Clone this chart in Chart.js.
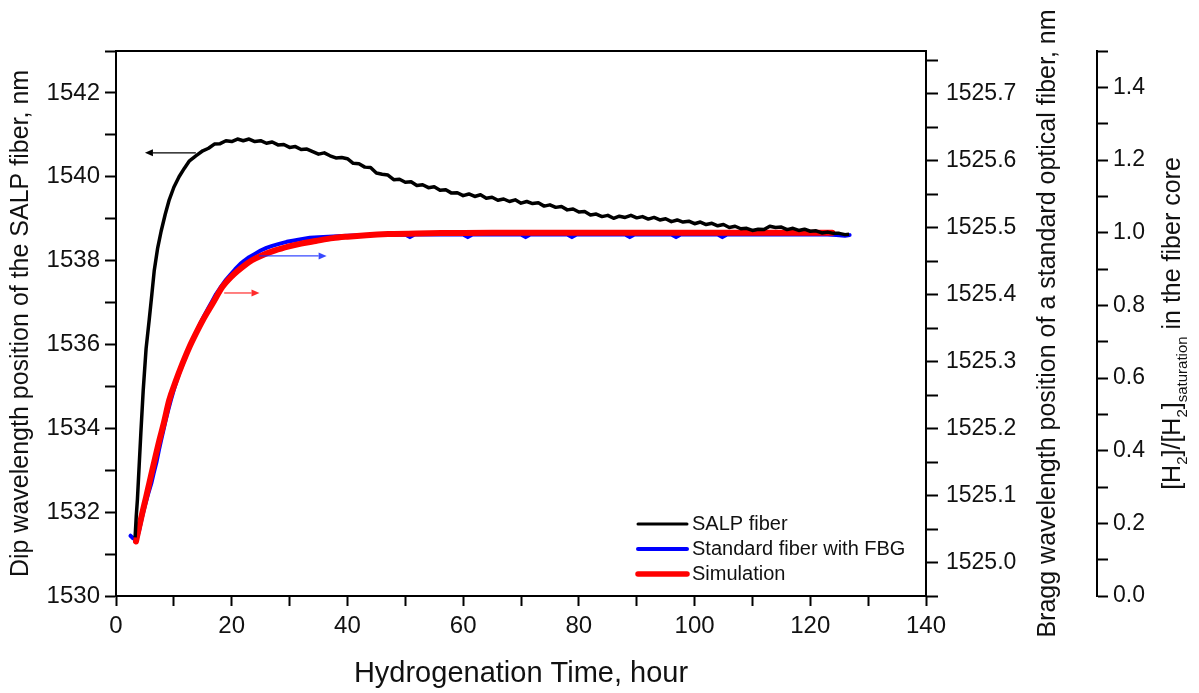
<!DOCTYPE html>
<html><head><meta charset="utf-8">
<script src="https://cdn.jsdelivr.net/npm/chart.js@4.4.1/dist/chart.umd.min.js"></script>
<style>html,body{margin:0;padding:0;background:#fff;}#wrap{width:1199px;height:693px;}</style>
</head><body><div id="wrap"><canvas id="c" width="1199" height="693"></canvas></div>
<script>
const FONT = "'Liberation Sans', Arial, sans-serif";

// ---- series ----
const salpHours = [3.3,3.5,3.7,4.0,4.3,4.7,5.2,5.75,6.2,6.6,7.2,7.8,8.5,9.2,10.0,10.9,11.8,12.7,13.8,15,16,17,18,19,20,21,22,23,24,25,26,27,28,29,30,31,32,33,
34,35,36,37,38,39,40,41,42,43,44,45,46,47,48,49,50,51,52,53,54,55,56,57,58,59,60,61,62,63,64,65,66,67,68,69,70,71,72,73,74,75,76,77,78,79,80,
81,82,83,84,85,86,87,88,89,90,91,92,93,94,95,96,97,98,99,100,101,102,103,104,105,106,107,108,109,110,111,112,113,114,115,116,117,118,119,120,121,122,123,124,125,126,126.7];
const salpDip = [1531.4,1531.9,1532.3,1533.1,1533.9,1534.9,1535.9,1536.6,1537.2,1537.75,1538.3,1538.7,1539.1,1539.45,1539.75,1540.0,1540.2,1540.38,1540.50,1540.62,1540.68,1540.78,1540.79,1540.86,1540.84,1540.90,1540.86,1540.90,1540.84,1540.86,1540.80,1540.83,1540.76,1540.77,1540.70,1540.72,1540.65,1540.66,
1540.60,1540.54,1540.57,1540.50,1540.45,1540.46,1540.43,1540.32,1540.31,1540.23,1540.22,1540.09,1540.06,1540.04,1539.93,1539.94,1539.87,1539.88,1539.79,1539.81,1539.74,1539.76,1539.68,1539.69,1539.61,1539.62,1539.55,1539.59,1539.53,1539.57,1539.49,1539.51,1539.44,1539.47,1539.41,1539.45,1539.37,1539.41,1539.36,1539.38,1539.30,1539.33,1539.27,1539.29,1539.21,1539.23,1539.16,
1539.17,1539.09,1539.11,1539.05,1539.08,1539.01,1539.06,1539.03,1539.08,1539.02,1539.05,1538.99,1539.03,1538.97,1539.00,1538.93,1538.97,1538.92,1538.94,1538.88,1538.92,1538.86,1538.89,1538.83,1538.86,1538.79,1538.82,1538.76,1538.77,1538.72,1538.75,1538.74,1538.82,1538.79,1538.80,1538.74,1538.77,1538.72,1538.75,1538.70,1538.71,1538.66,1538.68,1538.65,1538.65,1538.62,1538.63];

const fbgHours = [2.5,3.0,3.5,4.0,4.5,5.0,5.5,6.1,6.5,7.0,7.4,7.8,8.2,8.6,9.0,9.5,10.0,10.5,11.1,11.7,12.2,12.8,13.3,13.9,14.5,15.2,15.9,16.6,17.3,18.0,18.9,19.8,20.6,21.5,22.2,23.0,24.0,25.0,26.0,27.0,28.2,29.5,30.8,32,33.5,35,37.5,40,44,50,50.8,51.6,60,60.8,61.6,70,70.8,71.6,78,78.8,79.6,88,88.8,89.6,96,96.8,97.6,104,104.8,105.6,112,123,124.5,126,126.8];
const fbgBragg = [1525.040,1525.036,1525.033,1525.048,1525.068,1525.085,1525.101,1525.118,1525.133,1525.150,1525.167,1525.183,1525.198,1525.213,1525.227,1525.243,1525.258,1525.272,1525.287,1525.300,1525.312,1525.323,1525.334,1525.344,1525.356,1525.368,1525.379,1525.390,1525.401,1525.410,1525.421,1525.430,1525.438,1525.446,1525.451,1525.456,1525.461,1525.466,1525.470,1525.473,1525.476,1525.479,1525.481,1525.483,1525.485,1525.486,1525.487,1525.488,1525.489,1525.490,1525.486,1525.490,1525.490,1525.486,1525.490,1525.490,1525.486,1525.490,1525.490,1525.486,1525.490,1525.490,1525.486,1525.490,1525.490,1525.486,1525.490,1525.490,1525.486,1525.490,1525.490,1525.490,1525.489,1525.488,1525.489];

const simHours = [3.45,4.0,4.6,5.2,5.75,6.5,7.5,8.3,9.2,10.3,11.5,12.6,13.8,15.0,16.7,18.4,20.0,21.9,23.5,25.3,27.5,29.9,32,34.5,37.5,40,43.3,47,52,58,65,80,100,123.8];
const simFraction = [0.150,0.190,0.232,0.272,0.310,0.362,0.429,0.478,0.539,0.590,0.640,0.682,0.722,0.759,0.805,0.851,0.880,0.906,0.924,0.938,0.951,0.962,0.970,0.977,0.985,0.989,0.993,0.996,0.998,0.999,1.0,1.0,1.0,1.0];

const seriesNames = ['SALP fiber','Standard fiber with FBG','Simulation'];

// ---- ticks ----
const xTickValues = [0,10,20,30,40,50,60,70,80,90,100,110,120,130,140];
const xTickLabels = ['0','','20','','40','','60','','80','','100','','120','','140'];
const dipTickValues = [1530,1531,1532,1533,1534,1535,1536,1537,1538,1539,1540,1541,1542,1543];
const dipTickLabels = ['1530','','1532','','1534','','1536','','1538','','1540','','1542',''];
const braggTickValues = [1524.95,1525.0,1525.05,1525.1,1525.15,1525.2,1525.25,1525.3,1525.35,1525.4,1525.45,1525.5,1525.55,1525.6,1525.65,1525.7,1525.75];
const braggTickLabels = ['','1525.0','','1525.1','','1525.2','','1525.3','','1525.4','','1525.5','','1525.6','','1525.7',''];
const fracTickValues = [0,0.1,0.2,0.3,0.4,0.5,0.6,0.7,0.8,0.9,1.0,1.1,1.2,1.3,1.4,1.5];
const fracTickLabels = ['0.0','','0.2','','0.4','','0.6','','0.8','','1.0','','1.2','','1.4',''];

// ---- annotation arrows (data coordinates) ----
const arrowAxis = ['y','y1','y2'];
const arrowFromX = [13.8, 24.7, 18.7];
const arrowToX = [5.0, 36.4, 24.8];
const arrowYVal = [1540.57, 1525.458, 0.834];

const titleLeft = 'Dip wavelength position of the SALP fiber, nm';
const titleBottom = 'Hydrogenation Time, hour';
const titleBragg = 'Bragg wavelength position of a standard optical fiber, nm';

function pts(xs, ys){ return xs.map((x,i)=>({x:x, y:ys[i]})); }

const COLORS = ['#000000','#0000ff','#ff0000'];
const arrowColors = ['#000000','rgba(20,40,255,0.85)','rgba(255,20,20,0.9)'];

function setTicks(values){ return function(s){ s.ticks = values.map(v=>({value:v})); }; }

function axisCommon(tickLen){
  return {
    grid:{display:true, drawOnChartArea:false, drawTicks:true, tickLength:tickLen, tickWidth:2, tickColor:'#000'},
    border:{display:true, color:'#000', width:2},
  };
}

const frameAndExtras = {
  id:'frameAndExtras',
  afterDatasetsDraw(chart){
    const ctx = chart.ctx;
    ctx.save();
    for (let i=0;i<arrowAxis.length;i++){
      const sx = chart.scales.x, sy = chart.scales[arrowAxis[i]];
      const x0 = sx.getPixelForValue(arrowFromX[i]);
      const x1 = sx.getPixelForValue(arrowToX[i]);
      const y = sy.getPixelForValue(arrowYVal[i]);
      const dir = Math.sign(x1-x0);
      const headL = 8, headW = 3.5;
      ctx.strokeStyle = arrowColors[i];
      ctx.fillStyle = arrowColors[i];
      ctx.lineWidth = 1.2;
      ctx.beginPath(); ctx.moveTo(x0,y); ctx.lineTo(x1 - dir*headL, y); ctx.stroke();
      ctx.beginPath(); ctx.moveTo(x1,y); ctx.lineTo(x1-dir*headL, y-headW); ctx.lineTo(x1-dir*headL, y+headW); ctx.closePath(); ctx.fill();
    }
    ctx.restore();
  },
  afterDraw(chart){
    const ctx = chart.ctx, a = chart.chartArea;
    ctx.save();
    ctx.strokeStyle='#000'; ctx.lineWidth=2;
    ctx.beginPath(); ctx.moveTo(a.left-1, a.top); ctx.lineTo(a.right+1, a.top); ctx.stroke();

    const y1 = chart.scales.y1, y2 = chart.scales.y2;
    const cy = (a.top + a.bottom)/2;
    ctx.fillStyle='#111';
    ctx.save();
    ctx.translate(y1.right - 49, cy);
    ctx.rotate(-Math.PI/2);
    ctx.font = '25px ' + FONT;
    ctx.textAlign='center'; ctx.textBaseline='middle';
    ctx.fillText(titleBragg, 0, 0);
    ctx.restore();

    const segs = [
      ['[H',0],['2',1],[']/[H',0],['2',1],[']',0],['saturation',1],[' in the fiber core',0]
    ];
    const mainF = '25px ' + FONT, subF = '15px ' + FONT;
    let total = 0;
    segs.forEach(s=>{ ctx.font = s[1]?subF:mainF; total += ctx.measureText(s[0]).width; });
    ctx.save();
    ctx.translate(y2.left + 83, cy);
    ctx.rotate(-Math.PI/2);
    ctx.textAlign='left'; ctx.textBaseline='alphabetic';
    let px = -total/2;
    segs.forEach(s=>{
      ctx.font = s[1]?subF:mainF;
      ctx.fillText(s[0], px, s[1]?7:0);
      px += ctx.measureText(s[0]).width;
    });
    ctx.restore();

    const lw = [3,4,5.5];
    const rowsY = [a.bottom-72, a.bottom-47, a.bottom-22];
    const lx0 = a.right-288, lx1 = a.right-239, tx = a.right-234;
    ctx.font = '20px ' + FONT;
    ctx.textAlign='left'; ctx.textBaseline='middle';
    for (let i=0;i<3;i++){
      ctx.strokeStyle = COLORS[i]; ctx.lineWidth = lw[i]; ctx.lineCap='round';
      ctx.beginPath(); ctx.moveTo(lx0, rowsY[i]); ctx.lineTo(lx1, rowsY[i]); ctx.stroke();
      ctx.fillStyle='#111';
      ctx.fillText(chart.data.datasets[i].label, tx, rowsY[i]);
    }
    ctx.restore();
  }
};

new Chart(document.getElementById('c'), {
  type:'line',
  data:{
    datasets:[
      {label:seriesNames[0], data:pts(salpHours,salpDip), yAxisID:'y', borderColor:COLORS[0], borderWidth:3.5, pointRadius:0, tension:0, order:0, borderJoinStyle:'round'},
      {label:seriesNames[1], data:pts(fbgHours,fbgBragg), yAxisID:'y1', borderColor:COLORS[1], borderWidth:4, pointRadius:0, tension:0, order:2, borderCapStyle:'round', borderJoinStyle:'round'},
      {label:seriesNames[2], data:pts(simHours,simFraction), yAxisID:'y2', borderColor:COLORS[2], borderWidth:6, pointRadius:0, cubicInterpolationMode:'monotone', order:1, borderCapStyle:'round'}
    ]
  },
  options:{
    responsive:false, animation:false, devicePixelRatio:1,
    layout:{padding:{top:51,left:0,right:0,bottom:0}},
    plugins:{legend:{display:false}, tooltip:{enabled:false}},
    scales:{
      x:Object.assign(axisCommon(10),{
        type:'linear', position:'bottom', min:0, max:140,
        afterBuildTicks:setTicks(xTickValues),
        afterFit:s=>{s.height=97;},
        ticks:{autoSkip:false, maxRotation:0, padding:6, color:'#111', font:{family:FONT,size:24}, callback:(v,i)=>xTickLabels[i]},
        title:{display:true, text:titleBottom, color:'#111', font:{family:FONT,size:29}, padding:{top:0,bottom:2}}
      }),
      y:Object.assign(axisCommon(11),{
        type:'linear', position:'left', min:1530, max:1543,
        afterBuildTicks:setTicks(dipTickValues),
        afterFit:s=>{s.width=116;},
        ticks:{autoSkip:false, padding:5, color:'#111', font:{family:FONT,size:24}, callback:(v,i)=>dipTickLabels[i]},
        title:{display:true, text:titleLeft, color:'#111', font:{family:FONT,size:25}, padding:{top:6,bottom:0}}
      }),
      y1:Object.assign(axisCommon(12),{
        type:'linear', position:'right', min:1524.95, max:1525.764,
        afterBuildTicks:setTicks(braggTickValues),
        afterFit:s=>{s.width=171;},
        ticks:{autoSkip:false, padding:8, color:'#111', font:{family:FONT,size:23}, callback:(v,i)=>braggTickLabels[i]},
        title:{display:false}
      }),
      y2:Object.assign(axisCommon(11),{
        type:'linear', position:'right', min:0, max:1.5,
        afterBuildTicks:setTicks(fracTickValues),
        afterFit:s=>{s.width=102;},
        ticks:{autoSkip:false, padding:5, color:'#111', font:{family:FONT,size:23}, callback:(v,i)=>fracTickLabels[i]},
        title:{display:false}
      })
    }
  },
  plugins:[frameAndExtras]
});
</script></body></html>
